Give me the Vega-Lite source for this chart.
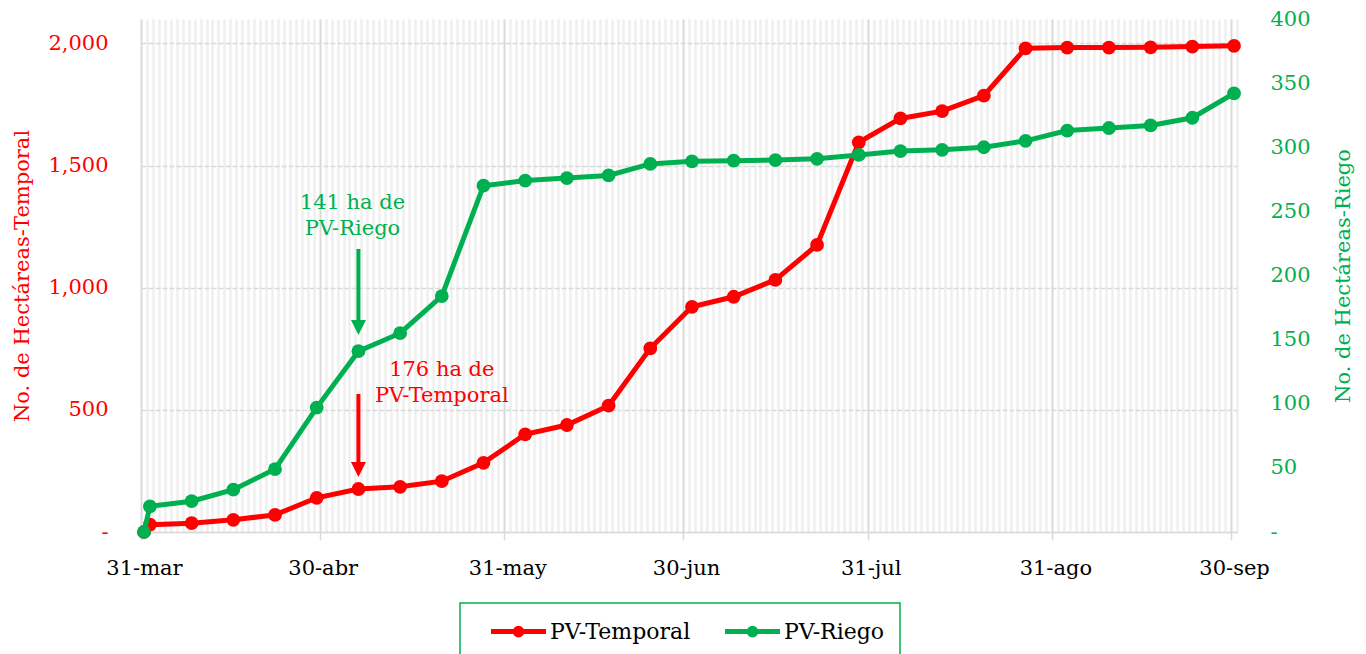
{
  "$schema": "https://vega.github.io/schema/vega-lite/v6.json",
  "width": 1096,
  "height": 513,
  "autosize": {"type": "none"},
  "padding": {"left": 141, "top": 19, "right": 129, "bottom": 122},
  "background": "white",
  "config": {
    "font": "DejaVu Serif",
    "view": {"stroke": null},
    "axis": {"labelFont": "DejaVu Serif", "titleFont": "DejaVu Serif", "labelFontSize": 21, "titleFontSize": 21, "titleFontWeight": "normal"},
    "legend": {"labelFont": "DejaVu Serif", "labelFontSize": 22}
  },
  "datasets": {
    "series": [
      {"date": "2023-03-31", "temporal": 0, "riego": 0},
      {"date": "2023-04-01", "temporal": 30, "riego": 20},
      {"date": "2023-04-08", "temporal": 36, "riego": 24},
      {"date": "2023-04-15", "temporal": 50, "riego": 33},
      {"date": "2023-04-22", "temporal": 70, "riego": 49},
      {"date": "2023-04-29", "temporal": 140, "riego": 97},
      {"date": "2023-05-06", "temporal": 176, "riego": 141},
      {"date": "2023-05-13", "temporal": 185, "riego": 155},
      {"date": "2023-05-20", "temporal": 208, "riego": 184},
      {"date": "2023-05-27", "temporal": 283, "riego": 270},
      {"date": "2023-06-03", "temporal": 400, "riego": 274},
      {"date": "2023-06-10", "temporal": 438, "riego": 276},
      {"date": "2023-06-17", "temporal": 517, "riego": 278},
      {"date": "2023-06-24", "temporal": 752, "riego": 287},
      {"date": "2023-07-01", "temporal": 922, "riego": 289},
      {"date": "2023-07-08", "temporal": 963, "riego": 289.5},
      {"date": "2023-07-15", "temporal": 1032, "riego": 290},
      {"date": "2023-07-22", "temporal": 1175, "riego": 291},
      {"date": "2023-07-29", "temporal": 1595, "riego": 294},
      {"date": "2023-08-05", "temporal": 1693, "riego": 297},
      {"date": "2023-08-12", "temporal": 1723, "riego": 298},
      {"date": "2023-08-19", "temporal": 1786, "riego": 300},
      {"date": "2023-08-26", "temporal": 1980, "riego": 305},
      {"date": "2023-09-02", "temporal": 1983, "riego": 313},
      {"date": "2023-09-09", "temporal": 1983, "riego": 315},
      {"date": "2023-09-16", "temporal": 1984, "riego": 317},
      {"date": "2023-09-23", "temporal": 1987, "riego": 323},
      {"date": "2023-09-30", "temporal": 1990, "riego": 342}
    ]
  },
  "layer": [
    {
      "data": {"name": "series"},
      "mark": {"type": "line", "strokeWidth": 5, "point": {"filled": true, "size": 190, "opacity": 1}},
      "encoding": {
        "x": {
          "field": "date", "type": "temporal", "timeUnit": "utcyearmonthdate", "bandPosition": 0.5,
          "scale": {"domain": [{"year": 2023, "month": 3, "date": 31, "utc": true}, {"year": 2023, "month": 10, "date": 1, "utc": true}]},
          "axis": {"orient": "bottom", "tickCount": {"interval": "day", "step": 1}, "labels": false, "ticks": false, "domain": false, "grid": true, "gridColor": "#EFEFEF", "gridWidth": 2.5, "title": null}
        },
        "y": {
          "field": "temporal", "type": "quantitative",
          "scale": {"domain": [0, 2100], "nice": false},
          "axis": {"orient": "left", "values": [0, 500, 1000, 1500, 2000], "labelExpr": "datum.value == 0 ? '-\u00a0\u00a0' : format(datum.value, ',')", "labelColor": "#FF0000", "title": "No. de Hectáreas-Temporal", "titleColor": "#FF0000", "titlePadding": 15, "grid": true, "gridColor": "#D9D9D9", "gridDash": [5, 2], "gridWidth": 1.5, "domain": false, "ticks": false, "labelPadding": 33}
        },
        "color": {
          "datum": "PV-Temporal", "type": "nominal",
          "scale": {"domain": ["PV-Temporal", "PV-Riego"], "range": ["#FF0000", "#00B050"]},
          "legend": {
            "orient": "none", "legendX": 319, "legendY": 584, "direction": "horizontal", "title": null,
            "strokeColor": "#00B050", "fillColor": "white", "padding": 15,
            "labelColor": "#000000", "labelFontSize": 22,
            "symbolType": "M-2.5,0L2.5,0M-0.3,0A0.3,0.3 0 1,1 0.3,0A0.3,0.3 0 1,1 -0.3,0Z",
            "symbolSize": 484, "symbolStrokeWidth": 5, "symbolOffset": 30, "labelOffset": 18, "columnPadding": 18,
            "encode": {
              "legend": {"update": {"strokeWidth": {"value": 1.5}}},
              "symbols": {"update": {"fill": {"scale": "color", "field": "value"}, "stroke": {"scale": "color", "field": "value"}}}
            }
          }
        }
      }
    },
    {
      "data": {"name": "series"},
      "mark": {"type": "line", "strokeWidth": 5, "point": {"filled": true, "size": 190, "opacity": 1}},
      "encoding": {
        "x": {
          "field": "date", "type": "temporal", "timeUnit": "utcyearmonthdate", "bandPosition": 0.5,
          "scale": {"domain": [{"year": 2023, "month": 3, "date": 31, "utc": true}, {"year": 2023, "month": 10, "date": 1, "utc": true}]},
          "axis": {
            "orient": "bottom",
            "values": [
              {"year": 2023, "month": 3, "date": 31, "utc": true},
              {"year": 2023, "month": 4, "date": 30, "utc": true},
              {"year": 2023, "month": 5, "date": 31, "utc": true},
              {"year": 2023, "month": 6, "date": 30, "utc": true},
              {"year": 2023, "month": 7, "date": 31, "utc": true},
              {"year": 2023, "month": 8, "date": 31, "utc": true},
              {"year": 2023, "month": 9, "date": 30, "utc": true}
            ],
            "labelExpr": "utcFormat(datum.value, '%d') + '-' + ['ene','feb','mar','abr','may','jun','jul','ago','sep','oct','nov','dic'][utcmonth(datum.value)]",
            "labelOffset": 3, "labelFlush": false, "labelColor": "#000000", "labelPadding": 17,
            "grid": true, "gridColor": "#D9D9D9", "gridWidth": 1.5,
            "ticks": true, "tickColor": "#D9D9D9", "tickSize": 8, "tickWidth": 1.5,
            "domain": true, "domainColor": "#D9D9D9", "domainWidth": 1.5, "title": null
          }
        },
        "y": {
          "field": "riego", "type": "quantitative",
          "scale": {"domain": [0, 400], "nice": false},
          "axis": {"orient": "right", "values": [0, 50, 100, 150, 200, 250, 300, 350, 400], "labelExpr": "datum.value == 0 ? '-' : format(datum.value, ',')", "labelColor": "#00B050", "title": "No. de Hectáreas-Riego", "titleColor": "#00B050", "titleAngle": 270, "titleBaseline": "top", "titlePadding": 22, "grid": false, "domain": false, "ticks": false, "labelPadding": 33}
        },
        "color": {"datum": "PV-Riego", "type": "nominal"}
      }
    },
    {
      "data": {"values": [{"date": "2023-05-05", "riego": 256.5, "label": "141 ha de\nPV-Riego"}]},
      "mark": {"type": "text", "color": "#00B050", "fontSize": 21, "lineHeight": 26, "lineBreak": "\n", "align": "center", "baseline": "middle", "font": "DejaVu Serif"},
      "encoding": {
        "x": {"field": "date", "type": "temporal", "timeUnit": "utcyearmonthdate", "bandPosition": 0.5, "axis": null},
        "y": {"field": "riego", "type": "quantitative", "scale": {"domain": [0, 400], "nice": false}, "axis": null},
        "text": {"field": "label"}
      }
    },
    {
      "data": {"values": [{"date": "2023-05-20", "temporal": 663, "label": "176 ha de\nPV-Temporal"}]},
      "mark": {"type": "text", "color": "#FF0000", "fontSize": 21, "lineHeight": 26, "lineBreak": "\n", "align": "center", "baseline": "middle", "font": "DejaVu Serif"},
      "encoding": {
        "x": {"field": "date", "type": "temporal", "timeUnit": "utcyearmonthdate", "bandPosition": 0.5, "axis": null},
        "y": {"field": "temporal", "type": "quantitative", "scale": {"domain": [0, 2100], "nice": false}, "axis": null},
        "text": {"field": "label"}
      }
    },
    {
      "data": {"values": [{"date": "2023-05-06", "top": 220.7, "tip": 159.4}]},
      "mark": {"type": "rule", "color": "#00B050", "strokeWidth": 4},
      "encoding": {
        "x": {"field": "date", "type": "temporal", "timeUnit": "utcyearmonthdate", "bandPosition": 0.5, "axis": null},
        "y": {"field": "top", "type": "quantitative", "scale": {"domain": [0, 400], "nice": false}, "axis": null},
        "y2": {"field": "tip"}
      }
    },
    {
      "data": {"values": [{"date": "2023-05-06", "tip": 159.4}]},
      "mark": {"type": "point", "shape": "M-1,-1L1,-1L0,1Z", "filled": true, "color": "#00B050", "size": 225, "opacity": 1},
      "encoding": {
        "x": {"field": "date", "type": "temporal", "timeUnit": "utcyearmonthdate", "bandPosition": 0.5, "axis": null},
        "y": {"field": "tip", "type": "quantitative", "scale": {"domain": [0, 400], "nice": false}, "axis": null}
      }
    },
    {
      "data": {"values": [{"date": "2023-05-06", "top": 565, "tip": 256}]},
      "mark": {"type": "rule", "color": "#FF0000", "strokeWidth": 4},
      "encoding": {
        "x": {"field": "date", "type": "temporal", "timeUnit": "utcyearmonthdate", "bandPosition": 0.5, "axis": null},
        "y": {"field": "top", "type": "quantitative", "scale": {"domain": [0, 2100], "nice": false}, "axis": null},
        "y2": {"field": "tip"}
      }
    },
    {
      "data": {"values": [{"date": "2023-05-06", "tip": 256}]},
      "mark": {"type": "point", "shape": "M-1,-1L1,-1L0,1Z", "filled": true, "color": "#FF0000", "size": 225, "opacity": 1},
      "encoding": {
        "x": {"field": "date", "type": "temporal", "timeUnit": "utcyearmonthdate", "bandPosition": 0.5, "axis": null},
        "y": {"field": "tip", "type": "quantitative", "scale": {"domain": [0, 2100], "nice": false}, "axis": null}
      }
    }
  ],
  "resolve": {"scale": {"y": "independent"}, "axis": {"x": "independent", "y": "independent"}}
}
